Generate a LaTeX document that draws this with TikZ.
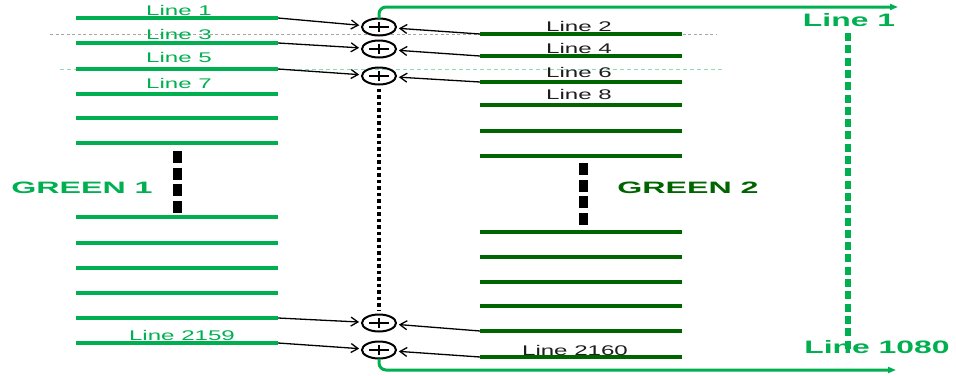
\documentclass[tikz,border=0pt]{standalone}
\usepackage{fontspec}
\setmainfont{Liberation Sans}
\usetikzlibrary{shapes.geometric,arrows.meta}
\definecolor{lgreen}{RGB}{0,176,80}
\definecolor{dgreen}{RGB}{0,100,0}
\definecolor{txtdark}{RGB}{30,30,30}
\newcommand\widetxt[2]{\scalebox{#1}[1]{#2}}
\begin{document}
\begin{tikzpicture}[x=1pt,y=-1pt,
  lline/.style={lgreen,line width=3.5pt},
  rline/.style={dgreen,line width=3.5pt},
  smalllbl/.style={font=\fontsize{14}{14}\selectfont,inner sep=0},
  biglbl/.style={font=\fontsize{18}{18}\selectfont\bfseries,inner sep=0,text=lgreen},
  grouplbl/.style={font=\fontsize{16.5}{16.5}\selectfont\bfseries,inner sep=0},
  sumnode/.style={ellipse,draw,line width=2pt,minimum width=34pt,minimum height=17pt,inner sep=0,outer sep=0},
  feed/.style={line width=1.3pt,-{Straight Barb[length=7pt,width=9pt]},shorten >=3pt},
  outarrow/.style={lgreen,line width=3pt,rounded corners=7pt,-{Triangle[length=8pt,width=6pt]}},
  gapmark/.style={line width=9pt,dash pattern=on 12pt off 4.7pt},
]
\useasboundingbox (0,0) rectangle (956,375);
% reference dashed lines
\draw[gray!70,line width=0.8pt,dash pattern=on 3pt off 2.5pt] (50,34) -- (716,34);
\draw[lgreen!45,line width=0.8pt,dash pattern=on 4pt off 3pt] (60,69) -- (725,69);
% left field lines
\foreach \y [count=\i] in {18,43,69,94,118,143,217,243,268,293,318,343} {
  \draw[lline] (76,\y) -- (278,\y);
  \coordinate (le\i) at (278,\y);
}
% right field lines
\foreach \y [count=\i] in {34,56,82,105,131,156,232,257,282,306,331,357} {
  \draw[rline] (480,\y) -- (682,\y);
  \coordinate (rs\i) at (480,\y);
}
% labels left
\node[smalllbl,text=lgreen] (l1) at (179,10) {\widetxt{1.72}{Line 1}};
\node[smalllbl,text=lgreen] (l3) at (179,34) {\widetxt{1.72}{Line 3}};
\node[smalllbl,text=lgreen] (l5) at (179,57) {\widetxt{1.72}{Line 5}};
\node[smalllbl,text=lgreen] (l7) at (179,83) {\widetxt{1.72}{Line 7}};
\node[smalllbl,text=lgreen] (l2159) at (182,335) {\widetxt{1.72}{Line 2159}};
% labels right
\node[smalllbl,text=txtdark] (l2) at (579,26) {\widetxt{1.72}{Line 2}};
\node[smalllbl,text=txtdark] (l4) at (579,48) {\widetxt{1.72}{Line 4}};
\node[smalllbl,text=txtdark] (l6) at (579,72) {\widetxt{1.72}{Line 6}};
\node[smalllbl,text=txtdark] (l8) at (579,94) {\widetxt{1.72}{Line 8}};
\node[smalllbl,text=txtdark] (l2160) at (575,350) {\widetxt{1.72}{Line 2160}};
% group labels
\node[grouplbl,text=lgreen] (g1) at (82,188) {\widetxt{1.95}{GREEN 1}};
\node[grouplbl,text=dgreen] (g2) at (688,188) {\widetxt{1.95}{GREEN 2}};
% gap marks
\draw[gapmark] (177,151) -- (177,214);
\draw[gapmark] (583,163) -- (583,226);
% summing nodes
\node[sumnode] (c1) at (379,27) {};
\node[sumnode] (c2) at (379,49) {};
\node[sumnode] (c3) at (379,76) {};
\node[sumnode] (c4) at (379,323) {};
\node[sumnode] (c5) at (379,350) {};
\foreach \c in {c1,c2,c3,c4,c5} {
  \draw[line width=2pt] ([xshift=-10pt]\c.center) -- ([xshift=10pt]\c.center);
  \draw[line width=2pt] ([yshift=-5pt]\c.center) -- ([yshift=5pt]\c.center);
}
% feeds
\draw[feed] (le1) -- (c1);
\draw[feed] (le2) -- (c2);
\draw[feed] (le3) -- (c3);
\draw[feed] (le11) -- (c4);
\draw[feed] (le12) -- (c5);
\draw[feed] (rs1) -- (c1);
\draw[feed] (rs2) -- (c2);
\draw[feed] (rs3) -- (c3);
\draw[feed] (rs11) -- (c4);
\draw[feed] (rs12) -- (c5);
% dotted continuation
\draw[line width=3.2pt,dash pattern=on 3.5pt off 3pt] ([yshift=-4pt]c3.south) -- ([yshift=4pt]c4.north);
% output arrows
\coordinate (topend) at (898,7);
\coordinate (botend) at (896,370);
\draw[outarrow] (c1.north) |- (topend);
\draw[outarrow] (c5.south) |- (botend);
% output labels
\node[biglbl] (o1) at (849,20) {\widetxt{1.77}{Line 1}};
\node[biglbl] (o1080) at (877,347) {\widetxt{1.77}{Line 1080}};
\draw[lgreen,line width=6.5pt,dash pattern=on 8pt off 4.3pt] (848,33) -- (848,352);
\end{tikzpicture}
\end{document}
